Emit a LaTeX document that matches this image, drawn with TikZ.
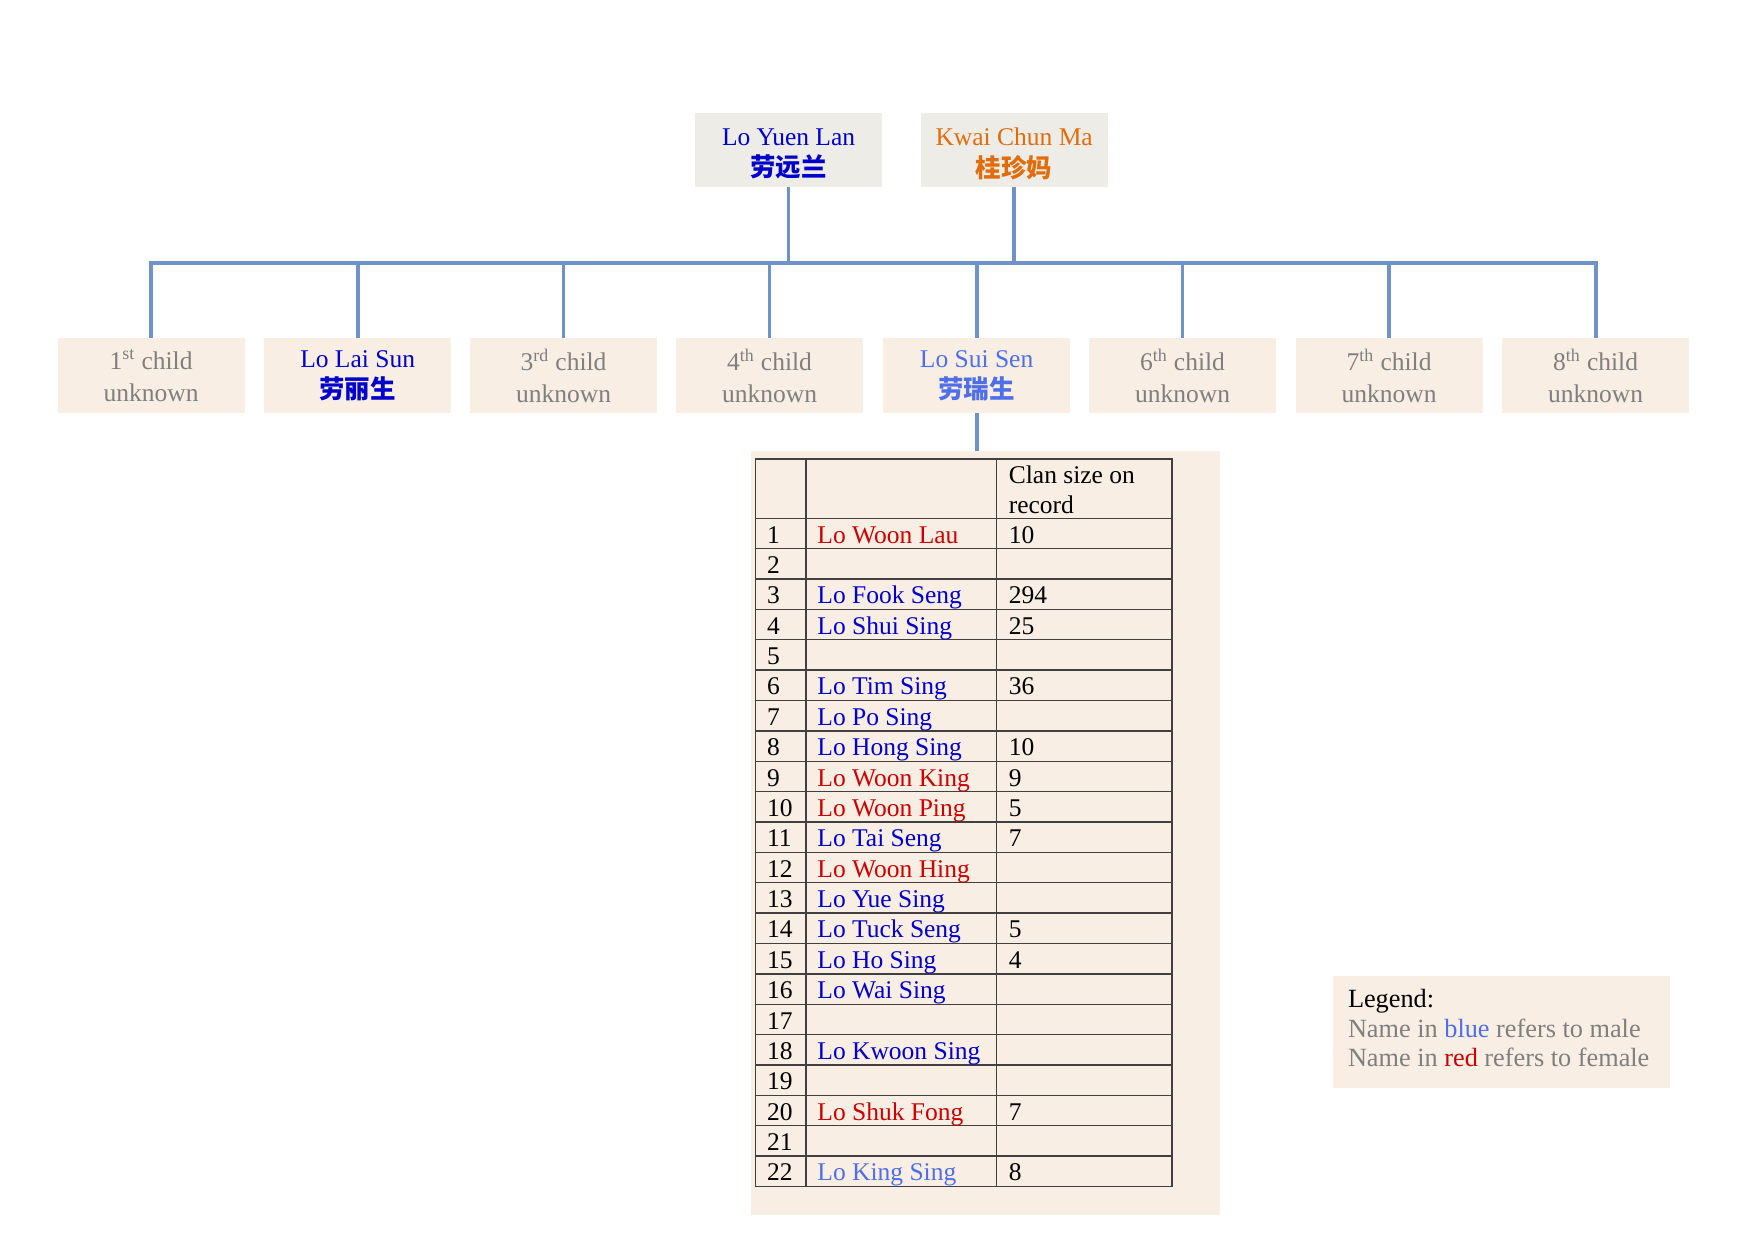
\documentclass[tikz,border=0pt]{standalone}
\usepackage{fontspec}
\setmainfont{Liberation Serif}
\newfontfamily\cjk{Noto Sans CJK SC}
\definecolor{parentfill}{HTML}{EEECE6}
\definecolor{peach}{HTML}{F9EEE3}
\definecolor{linkblue}{HTML}{6F93C9}
\definecolor{male}{HTML}{0000CC}
\definecolor{malelight}{HTML}{4F6FE8}
\definecolor{fem}{HTML}{CC0000}
\definecolor{orng}{HTML}{E36C0A}
\definecolor{greytext}{HTML}{7F7F7F}
\definecolor{gridc}{HTML}{404040}
\tikzset{
  txt/.style={font=\fontsize{16.2}{19.9}\selectfont},
  pbox/.style={fill=parentfill, minimum width=4.175cm, minimum height=1.65cm, inner sep=0pt},
  ptext/.style={txt, align=center, inner sep=0pt},
  cbox/.style={txt, fill=peach, minimum width=4.175cm, minimum height=1.675cm, align=center, inner sep=0pt, text=greytext},
  link/.style={draw=linkblue, line width=2.4pt},
  cell/.style={txt, anchor=base west, inner sep=0pt},
  legtext/.style={font=\fontsize{16.7}{20}\selectfont, anchor=base west, inner sep=0pt},
  gridline/.style={draw=gridc, line width=0.9pt}
}
\newcommand\cn[1]{{\cjk\bfseries #1}}
\begin{document}
\begin{tikzpicture}[x=0.025cm,y=-0.025cm]
\useasboundingbox (0,0) rectangle (1567,1107);
% parents
\node[pbox] (p1) at (704.5,134) {};
\node[ptext, text=male] (p1t) at (704.5,137.5) {Lo Yuen Lan\\\cn{劳远兰}};
\node[pbox] (p2) at (906,134) {};
\node[ptext, text=orng] (p2t) at (906,137.5) {Kwai Chun Ma\\\cn{桂珍妈}};
% children
\node[cbox] (c1) at (135,335.5) {1\textsuperscript{st} child\\unknown};
\node[cbox, text=male] (c2) at (319.5,335.5) {Lo Lai Sun\\\cn{劳丽生}};
\node[cbox] (c3) at (503.5,335.5) {3\textsuperscript{rd} child\\unknown};
\node[cbox] (c4) at (687.5,335.5) {4\textsuperscript{th} child\\unknown};
\node[cbox, text=malelight] (c5) at (872.5,335.5) {Lo Sui Sen\\\cn{劳瑞生}};
\node[cbox] (c6) at (1056.5,335.5) {6\textsuperscript{th} child\\unknown};
\node[cbox] (c7) at (1241,335.5) {7\textsuperscript{th} child\\unknown};
\node[cbox] (c8) at (1425.5,335.5) {8\textsuperscript{th} child\\unknown};
% connectors
\coordinate (bar) at (0,235);
\draw[link] (p1.south) -- (p1.south |- bar);
\draw[link] (p2.south) -- (p2.south |- bar);
\draw[link, line cap=rect] (c1.north |- bar) -- (c8.north |- bar);
\foreach \c in {c1,c2,c3,c4,c5,c6,c7,c8}{
  \draw[link] (\c.north) -- (\c.north |- bar);
}
% table background
\node[fill=peach, minimum width=10.475cm, minimum height=17.05cm, inner sep=0pt] (tbg) at (880.5,744) {};
\draw[link] (c5.south) -- (c5.south |- tbg.north);
% table grid
\draw[gridline] (675,410) rectangle (1047,1060);
\draw[gridline] (720,410) -- (720,1060);
\draw[gridline] (890,410) -- (890,1060);
\foreach \k in {0,...,21}{
  \pgfmathsetmacro\yy{463+\k*27.136}
  \draw[gridline] (675,\yy) -- (1047,\yy);
}
% header
\node[cell] (h1) at (901,432) {Clan size on};
\node[cell] (h2) at (901,459) {record};
% rows
\newcommand\trow[4]{%
  \pgfmathsetmacro\yb{463+#1*27.136-5}%
  \node[cell] (n#1) at (685,\yb) {#1};%
  \node[cell, text=#3] (m#1) at (730,\yb) {#2};%
  \node[cell] (s#1) at (901,\yb) {#4};%
}
\trow{1}{Lo Woon Lau}{fem}{10}
\trow{2}{}{black}{}
\trow{3}{Lo Fook Seng}{male}{294}
\trow{4}{Lo Shui Sing}{male}{25}
\trow{5}{}{black}{}
\trow{6}{Lo Tim Sing}{male}{36}
\trow{7}{Lo Po Sing}{male}{}
\trow{8}{Lo Hong Sing}{male}{10}
\trow{9}{Lo Woon King}{fem}{9}
\trow{10}{Lo Woon Ping}{fem}{5}
\trow{11}{Lo Tai Seng}{male}{7}
\trow{12}{Lo Woon Hing}{fem}{}
\trow{13}{Lo Yue Sing}{male}{}
\trow{14}{Lo Tuck Seng}{male}{5}
\trow{15}{Lo Ho Sing}{male}{4}
\trow{16}{Lo Wai Sing}{male}{}
\trow{17}{}{black}{}
\trow{18}{Lo Kwoon Sing}{male}{}
\trow{19}{}{black}{}
\trow{20}{Lo Shuk Fong}{fem}{7}
\trow{21}{}{black}{}
\trow{22}{Lo King Sing}{malelight}{8}
% legend
\node[fill=peach, minimum width=7.525cm, minimum height=2.5cm, inner sep=0pt] (leg) at (1341.5,922) {};
\node[legtext] (l1) at (1204,900) {Legend:};
\node[legtext, text=greytext] (l2) at (1204,927) {Name in \textcolor{malelight}{blue} refers to male};
\node[legtext, text=greytext] (l3) at (1204,953) {Name in \textcolor{fem}{red} refers to female};
\end{tikzpicture}
\end{document}
